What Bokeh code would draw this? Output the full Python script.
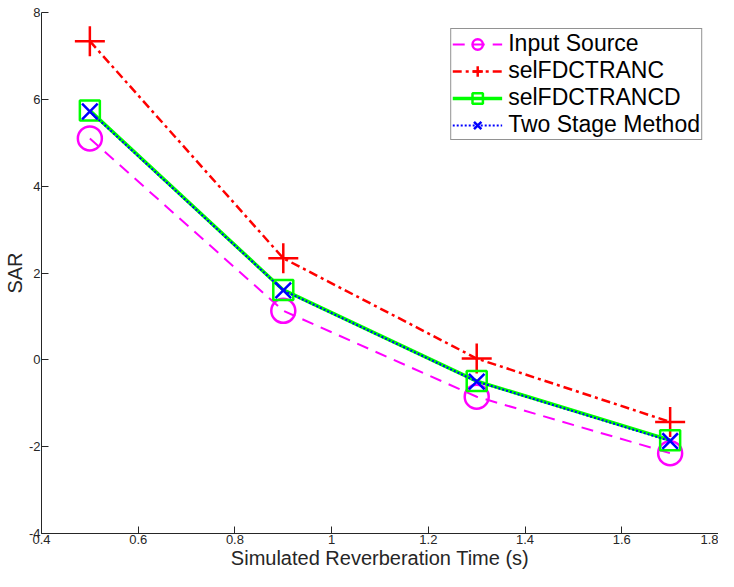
from bokeh.plotting import figure
from bokeh.models import Range1d, FixedTicker, Legend, LegendItem
from bokeh.embed import file_html
from bokeh.resources import INLINE

reverb_time = [0.5, 0.9, 1.3, 1.7]
input_source = [5.10, 1.13, -0.85, -2.15]
sel_fdctranc = [7.34, 2.34, 0.03, -1.43]
sel_fdctrancd = [5.74, 1.61, -0.49, -1.85]
two_stage = [5.72, 1.60, -0.50, -1.87]
x_ticks = [0.4, 0.6, 0.8, 1.0, 1.2, 1.4, 1.6, 1.8]
x_tick_labels = ["0.4", "0.6", "0.8", "1", "1.2", "1.4", "1.6", "1.8"]
y_ticks = [-4, -2, 0, 2, 4, 6, 8]
y_tick_labels = ["-4", "-2", "0", "2", "4", "6", "8"]

p = figure(width=718, height=571, output_backend="svg", toolbar_location=None,
           x_range=Range1d(0.4, 1.8), y_range=Range1d(-4, 8),
           min_border_left=30, min_border_right=0, min_border_top=12, min_border_bottom=10)
p.outline_line_color = None
p.xgrid.visible = False
p.ygrid.visible = False

for ax in (p.xaxis[0], p.yaxis[0]):
    ax.major_tick_in = 7
    ax.major_tick_out = 0
    ax.minor_tick_line_color = None
    ax.axis_line_color = "#262626"
    ax.major_tick_line_color = "#262626"
    ax.major_label_text_font = "Liberation Sans"
    ax.major_label_text_font_size = "13px"
    ax.major_label_text_color = "#262626"
    ax.axis_label_text_font = "Liberation Sans"
    ax.axis_label_text_font_style = "normal"
    ax.axis_label_text_font_size = "20px"
    ax.axis_label_text_color = "#262626"
    ax.major_label_standoff = 1
    ax.axis_label_standoff = 0

p.xaxis.ticker = FixedTicker(ticks=x_ticks)
p.yaxis.ticker = FixedTicker(ticks=y_ticks)
p.xaxis.major_label_overrides = dict(zip(x_ticks, x_tick_labels))
p.yaxis.major_label_overrides = dict(zip(y_ticks, y_tick_labels))
p.xaxis.axis_label = "Simulated Reverberation Time (s)"
p.yaxis.axis_label = "SAR"

l1 = p.line(reverb_time, input_source, line_color="magenta", line_width=2, line_dash="12 8")
m1 = p.scatter(reverb_time, input_source, marker="circle", size=24, fill_color=None,
               line_color="magenta", line_width=2.5)
l2 = p.line(reverb_time, sel_fdctranc, line_color="red", line_width=2.5, line_dash="9 4 3 4")
m2 = p.scatter(reverb_time, sel_fdctranc, marker="cross", size=30, line_color="red", line_width=2.5)
l3 = p.line(reverb_time, sel_fdctrancd, line_color="#00ff00", line_width=3.5)
m3 = p.scatter(reverb_time, sel_fdctrancd, marker="square", size=20, fill_color=None,
               line_color="#00ff00", line_width=2.5)
l4 = p.line(reverb_time, two_stage, line_color="blue", line_width=2, line_dash="2 2")
m4 = p.scatter(reverb_time, two_stage, marker="x", size=22, line_color="blue", line_width=2.5)

legend = Legend(items=[
    LegendItem(label="Input Source", renderers=[l1, m1]),
    LegendItem(label="selFDCTRANC", renderers=[l2, m2]),
    LegendItem(label="selFDCTRANCD", renderers=[l3, m3]),
    LegendItem(label="Two Stage Method", renderers=[l4, m4]),
], location="top_right")
legend.margin = 16
legend.label_text_font = "Liberation Sans"
legend.label_text_font_size = "23px"
legend.label_text_color = "black"
legend.glyph_width = 50
legend.glyph_height = 26
legend.label_height = 26
legend.spacing = 0
legend.padding = 1
legend.label_standoff = 6
legend.border_line_color = "#262626"
legend.border_line_width = 1
legend.background_fill_alpha = 1
p.add_layout(legend)

open("out.html", "w").write(file_html(p, INLINE))
